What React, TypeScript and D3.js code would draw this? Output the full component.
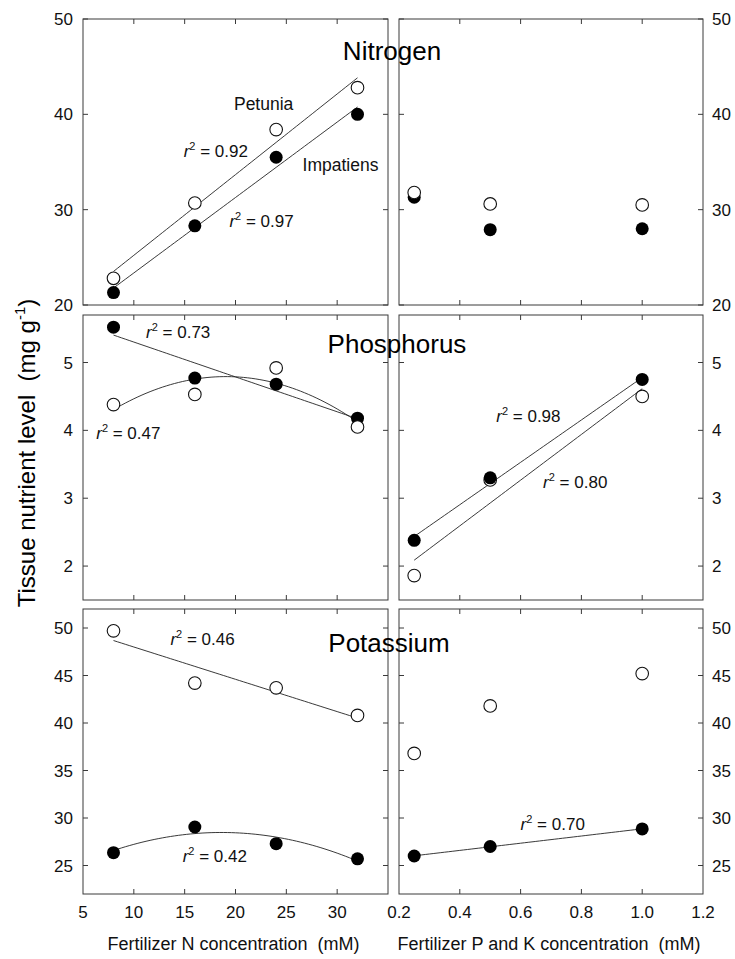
import React, { Component } from "react";
import * as d3 from "d3";

// fertilizer levels
const nConc = [8, 16, 24, 32];
const pkConc = [0.25, 0.5, 1.0];

// tissue values, open = petunia, filled = impatiens
const nPetunia = [22.8, 30.7, 38.4, 42.8];
const nImpatiens = [21.3, 28.3, 35.5, 40.0];
const nPetuniaPK = [31.8, 30.6, 30.5];
const nImpatiensPK = [31.3, 27.9, 28.0];

const pPetunia = [4.38, 4.53, 4.92, 4.05];
const pImpatiens = [5.52, 4.77, 4.68, 4.18];
const pPetuniaPK = [1.86, 3.27, 4.5];
const pImpatiensPK = [2.38, 3.3, 4.75];

const kPetunia = [49.7, 44.2, 43.7, 40.8];
const kImpatiens = [26.35, 29.05, 27.3, 25.7];
const kPetuniaPK = [36.8, 41.8, 45.2];
const kImpatiensPK = [26.0, 27.0, 28.85];

const nutrients = ["Nitrogen", "Phosphorus", "Potassium"];
const yDomains = [[20, 50], [1.5, 5.7], [22, 52]];
const yTicks = [[20, 30, 40, 50], [2, 3, 4, 5], [25, 30, 35, 40, 45, 50]];
const xDomains = [[5, 35], [0.2, 1.2]];
const xTicks = [[5, 10, 15, 20, 25, 30, 35], [0.2, 0.4, 0.6, 0.8, 1.0, 1.2]];
const xTickLabels = [["5", "10", "15", "20", "25", "30", ""], ["0.2", "0.4", "0.6", "0.8", "1.0", "1.2"]];
const xTitles = ["Fertilizer N concentration  (mM)", "Fertilizer P and K concentration  (mM)"];

// regression degree per panel, [petunia, impatiens], 0 = no line
const fitLeft = [[1, 1], [2, 1], [1, 2]];
const fitRight = [[0, 0], [1, 1], [0, 1]];

const r2Labels = [
  { row: 0, col: 0, x: 14.9, y: 35.5, text: "0.92" },
  { row: 0, col: 0, x: 19.4, y: 28.2, text: "0.97" },
  { row: 1, col: 0, x: 11.2, y: 5.36, text: "0.73" },
  { row: 1, col: 0, x: 6.3, y: 3.87, text: "0.47" },
  { row: 1, col: 1, x: 0.52, y: 4.12, text: "0.98" },
  { row: 1, col: 1, x: 0.674, y: 3.15, text: "0.80" },
  { row: 2, col: 0, x: 13.6, y: 48.2, text: "0.46" },
  { row: 2, col: 0, x: 14.8, y: 25.4, text: "0.42" },
  { row: 2, col: 1, x: 0.6, y: 28.74, text: "0.70" },
];

const speciesLabels = [
  { x: 19.85, y: 40.45, text: "Petunia" },
  { x: 26.6, y: 34.06, text: "Impatiens" },
];

const FONT = "'Liberation Sans', Arial, sans-serif";

function polyFit(xs, ys, deg) {
  // least squares via normal equations
  const n = deg + 1;
  const A = [];
  for (let i = 0; i < n; i++) {
    const row = [];
    for (let j = 0; j < n; j++) row.push(d3.sum(xs, x => Math.pow(x, i + j)));
    row.push(d3.sum(xs, (x, k) => Math.pow(x, i) * ys[k]));
    A.push(row);
  }
  for (let i = 0; i < n; i++) {
    let p = i;
    for (let r = i + 1; r < n; r++) if (Math.abs(A[r][i]) > Math.abs(A[p][i])) p = r;
    [A[i], A[p]] = [A[p], A[i]];
    for (let r = 0; r < n; r++) {
      if (r === i) continue;
      const f = A[r][i] / A[i][i];
      for (let c = i; c <= n; c++) A[r][c] -= f * A[i][c];
    }
  }
  const coef = A.map((row, i) => row[n] / row[i]);
  return x => coef.reduce((s, c, i) => s + c * Math.pow(x, i), 0);
}

class NutrientChart extends Component {
  svgRef = React.createRef<SVGSVGElement>();

  componentDidMount() {
    this.draw();
  }

  draw() {
    const svg = d3.select(this.svgRef.current);
    svg.selectAll("*").remove();

    const colX = [[83, 388], [399, 703]];
    const rowY = [[19, 305], [315, 600], [609, 894]];
    const series = [
      [[nPetunia, nImpatiens], [nPetuniaPK, nImpatiensPK]],
      [[pPetunia, pImpatiens], [pPetuniaPK, pImpatiensPK]],
      [[kPetunia, kImpatiens], [kPetuniaPK, kImpatiensPK]],
    ];
    const concs = [nConc, pkConc];
    const fits = [fitLeft, fitRight];

    const scales = rowY.map((ry, r) => colX.map((cx, c) => ({
      x: d3.scaleLinear().domain(xDomains[c]).range(cx),
      y: d3.scaleLinear().domain(yDomains[r]).range([ry[1], ry[0]]),
    })));

    rowY.forEach((ry, r) => {
      colX.forEach((cx, c) => {
        const { x, y } = scales[r][c];
        const g = svg.append("g");

        g.append("rect")
          .attr("x", cx[0]).attr("y", ry[0])
          .attr("width", cx[1] - cx[0]).attr("height", ry[1] - ry[0])
          .attr("fill", "none").attr("stroke", "#3a3a3a").attr("stroke-width", 1);

        // inward ticks
        const tk = g.append("g").attr("stroke", "#3a3a3a").attr("stroke-width", 1);
        yTicks[r].forEach(t => {
          tk.append("line").attr("x1", cx[0]).attr("x2", cx[0] + 5).attr("y1", y(t)).attr("y2", y(t));
          tk.append("line").attr("x1", cx[1]).attr("x2", cx[1] - 5).attr("y1", y(t)).attr("y2", y(t));
        });
        xTicks[c].slice(1, -1).forEach(t => {
          tk.append("line").attr("x1", x(t)).attr("x2", x(t)).attr("y1", ry[0]).attr("y2", ry[0] + 5);
          tk.append("line").attr("x1", x(t)).attr("x2", x(t)).attr("y1", ry[1]).attr("y2", ry[1] - 5);
        });

        // y tick labels outside the outer edges
        const lbl = g.append("g").attr("font-family", FONT).attr("font-size", 17).attr("fill", "#111");
        yTicks[r].forEach(t => {
          lbl.append("text")
            .attr("x", c === 0 ? cx[0] - 10 : cx[1] + 9)
            .attr("y", y(t)).attr("dy", "0.36em")
            .attr("text-anchor", c === 0 ? "end" : "start")
            .text(t);
        });

        // regression lines
        const [pet, imp] = series[r][c];
        const xs = concs[c];
        const [dPet, dImp] = fits[c][r];
        [[pet, dPet], [imp, dImp]].forEach(([ys, deg]) => {
          if (!deg) return;
          const f = polyFit(xs, ys, deg);
          const lo = d3.min(xs), hi = d3.max(xs);
          const pts = d3.range(0, 61).map(i => lo + (hi - lo) * i / 60);
          g.append("path")
            .attr("d", d3.line().x(v => x(v)).y(v => y(f(v)))(pts))
            .attr("fill", "none").attr("stroke", "#222").attr("stroke-width", 0.9);
        });

        // markers: filled first except where petunia hides under impatiens
        const drawOpen = () => g.append("g").selectAll("circle").data(pet).join("circle")
          .attr("cx", (d, i) => x(xs[i])).attr("cy", d => y(d)).attr("r", 6.3)
          .attr("fill", "white").attr("stroke", "#111").attr("stroke-width", 1.1);
        const drawFilled = () => g.append("g").selectAll("circle").data(imp).join("circle")
          .attr("cx", (d, i) => x(xs[i])).attr("cy", d => y(d)).attr("r", 6.5)
          .attr("fill", "#000");
        if (r === 1 && c === 1) { drawOpen(); drawFilled(); } else { drawFilled(); drawOpen(); }
      });

      // nutrient title straddling the columns
      svg.append("text")
        .attr("x", [392, 397, 389][r]).attr("y", [60, 353, 652][r])
        .attr("text-anchor", "middle").attr("font-family", FONT).attr("font-size", 26)
        .attr("fill", "#000").text(nutrients[r]);
    });

    // r² labels
    r2Labels.forEach(l => {
      const { x, y } = scales[l.row][l.col];
      const t = svg.append("text").attr("x", x(l.x)).attr("y", y(l.y))
        .attr("font-family", FONT).attr("font-size", 17).attr("fill", "#111");
      t.append("tspan").attr("font-style", "italic").text("r");
      t.append("tspan").attr("font-size", 11).attr("dy", -7).text("2");
      t.append("tspan").attr("dy", 7).text(" = " + l.text);
    });

    speciesLabels.forEach(l => {
      const { x, y } = scales[0][0];
      svg.append("text").attr("x", x(l.x)).attr("y", y(l.y))
        .attr("font-family", FONT).attr("font-size", 17.5).attr("fill", "#111").text(l.text);
    });

    // x tick labels and titles
    colX.forEach((cx, c) => {
      const { x } = scales[2][c];
      const g = svg.append("g").attr("font-family", FONT).attr("fill", "#111");
      xTicks[c].forEach((t, i) => {
        g.append("text").attr("x", x(t)).attr("y", 918).attr("text-anchor", "middle")
          .attr("font-size", 17).text(xTickLabels[c][i]);
      });
      g.append("text").attr("x", (cx[0] + cx[1]) / 2 + (c === 0 ? -2 : -2)).attr("y", 950)
        .attr("text-anchor", "middle").attr("font-size", 18)
        .style("white-space", "pre").text(xTitles[c]);
    });

    // y title
    const yt = svg.append("text")
      .attr("transform", "translate(35,453) rotate(-90)")
      .attr("text-anchor", "middle").attr("font-family", FONT).attr("font-size", 24)
      .attr("fill", "#000").style("white-space", "pre");
    yt.append("tspan").text("Tissue nutrient level  (mg g");
    yt.append("tspan").attr("font-size", 15).attr("dy", -10).text("-1");
    yt.append("tspan").attr("dy", 10).text(")");
  }

  render() {
    return (
      <svg ref={this.svgRef} width={735} height={959}
        style={{ position: "absolute", left: 0, top: 0, background: "#fff" }} />
    );
  }
}

export default function App() {
  return <NutrientChart />;
}
